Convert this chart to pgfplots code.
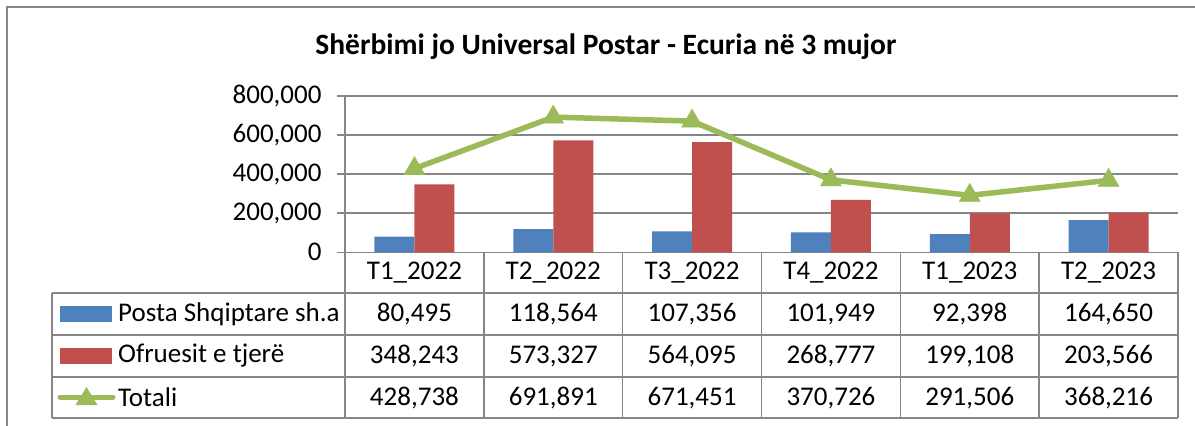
\documentclass[border=0pt]{standalone}
\usepackage{fontspec}
\setmainfont{Carlito}
\usepackage{pgfplots}
\usepackage{pgfplotstable}
\pgfplotsset{compat=1.18}
\definecolor{cblue}{HTML}{4F81BD}
\definecolor{cred}{HTML}{C0504D}
\definecolor{cgreen}{HTML}{9BBB59}
\definecolor{lgray}{RGB}{134,134,134}
\pgfplotstableread{
x posta ofruesit totali
0 80495 348243 428738
1 118564 573327 691891
2 107356 564095 671451
3 101949 268777 370726
4 92398 199108 291506
5 164650 203566 368216
}\datatable

\begin{document}
\begin{tikzpicture}[x=1bp,y=1bp,font=\fontsize{27bp}{32bp}\selectfont]
\useasboundingbox (0,0) rectangle (1195,425);
\draw[lgray, line width=2bp] (7,-20) -- (7,418) -- (1215,418);
\node[font=\fontsize{29.5bp}{34bp}\selectfont\bfseries] at (606,378) {Shërbimi jo Universal Postar - Ecuria në 3 mujor};
\begin{axis}[
  at={(345bp,172.7bp)}, anchor=south west,
  scale only axis, width=833bp, height=156.3bp,
  xmin=-0.5, xmax=5.5, ymin=0, ymax=800000,
  axis lines*=left,
  axis line style={lgray, line width=1.6bp, -},
  xtick=\empty,
  ytick={0,200000,400000,600000,800000},
  ymajorgrids,
  major grid style={lgray, line width=1.6bp},
  tick style={lgray, line width=1.6bp},
  major tick length=8bp,
  tick align=outside,
  scaled y ticks=false,
  yticklabel style={font=\fontsize{27bp}{32bp}\selectfont, xshift=-12bp, /pgf/number format/.cd, fixed, 1000 sep={,}, assume math mode=true},
  clip=false,
]
\addplot[ybar, bar width=40bp, bar shift=-20bp, fill=cblue, draw=none] table[x=x, y=posta] {\datatable};
\addplot[ybar, bar width=40bp, bar shift=20bp, fill=cred, draw=none] table[x=x, y=ofruesit] {\datatable};
\addplot[sharp plot, cgreen, line width=5.5bp, mark=triangle*, mark size=12bp, mark options={line width=0.5bp, fill=cgreen, draw=cgreen}] table[x=x, y=totali] {\datatable};
\end{axis}
% data table grid
\foreach \yy in {132,90,48,7} \draw[lgray, line width=1.6bp] (52,\yy) -- (1178,\yy);
\draw[lgray, line width=1.6bp] (52,132) -- (52,7);
\foreach \k in {0,...,6} \draw[lgray, line width=1.6bp] ({345+\k*138.833},172.7) -- ({345+\k*138.833},7);
% category labels
\foreach \k/\lab in {0/T1\_2022,1/T2\_2022,2/T3\_2022,3/T4\_2022,4/T1\_2023,5/T2\_2023}
  \node at ({345+(\k+0.5)*138.833},152.5) {\lab};
% values
\foreach \k in {0,...,5} {
  \pgfplotstablegetelem{\k}{posta}\of\datatable \let\va\pgfplotsretval
  \node at ({345+(\k+0.5)*138.833},110.5) {\pgfmathprintnumber[fixed, 1000 sep={,}, assume math mode=true]{\va}};
  \pgfplotstablegetelem{\k}{ofruesit}\of\datatable \let\vb\pgfplotsretval
  \node at ({345+(\k+0.5)*138.833},68.5) {\pgfmathprintnumber[fixed, 1000 sep={,}, assume math mode=true]{\vb}};
  \pgfplotstablegetelem{\k}{totali}\of\datatable \let\vc\pgfplotsretval
  \node at ({345+(\k+0.5)*138.833},27) {\pgfmathprintnumber[fixed, 1000 sep={,}, assume math mode=true]{\vc}};
}
% legend keys
\fill[cblue] (60,103) rectangle (112,119);
\fill[cred] (60,61) rectangle (112,77);
\draw[cgreen, line width=5bp, line cap=round] (60,28) -- (113,28);
\fill[cgreen] (75.5,20) -- (97.5,20) -- (86.5,38) -- cycle;
\node[anchor=west, inner sep=0pt] at (118,111) {Posta Shqiptare sh.a};
\node[anchor=west, inner sep=0pt] at (118,69) {Ofruesit e tjerë};
\node[anchor=west, inner sep=0pt] at (118,27.5) {Totali};
\end{tikzpicture}
\end{document}
